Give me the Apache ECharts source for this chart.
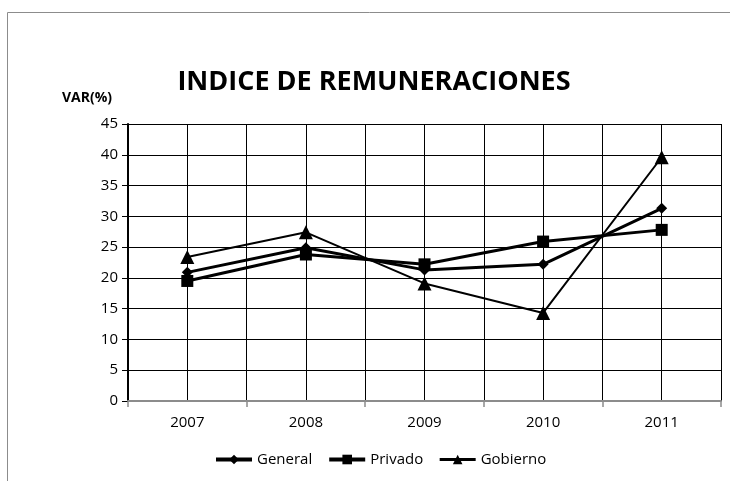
<!DOCTYPE html>
<html>
<head>
<meta charset="utf-8">
<script src="https://cdn.jsdelivr.net/npm/echarts@6/dist/echarts.min.js"></script>
<style>
  html, body { margin: 0; padding: 0; background: #fff; }
  #chart { width: 730px; height: 481px; }
</style>
</head>
<body>
<div id="chart"></div>
<script>
// datos
const years = ['2007', '2008', '2009', '2010', '2011'];
const general = [20.9, 24.9, 21.3, 22.2, 31.3];
const privado = [19.5, 23.8, 22.2, 25.9, 27.8];
const gobierno = [23.4, 27.4, 19.1, 14.3, 39.6];
const halfSteps = ['', '', '', '', '', '', '', '', '', ''];

const font = 'Open Sans';
const chart = echarts.init(document.getElementById('chart'));

chart.setOption({
    animation: false,
    textStyle: { fontFamily: font },
    title: {
        text: 'INDICE DE REMUNERACIONES',
        left: 369, top: 64, textAlign: 'center',
        textStyle: { fontFamily: font, fontSize: 27, fontWeight: 'bold', color: '#000' }
    },
    graphic: [
        { type: 'rect', shape: { x: 7.5, y: 12.5, width: 900, height: 700 },
          style: { fill: 'none', stroke: '#8c8c8c', lineWidth: 1 }, z: -1 },
        { type: 'text', left: 62, top: 91,
          style: { text: 'VAR(%)', font: 'bold 14px "Open Sans"', fill: '#000' } }
    ],
    legend: {
        bottom: 9, left: 209,
        itemWidth: 36, itemHeight: 12, itemGap: 15,
        textStyle: { fontFamily: font, fontSize: 15, color: '#000' },
        data: [
            { name: 'General', lineStyle: { width: 4 } },
            { name: 'Privado', lineStyle: { width: 4 } },
            { name: 'Gobierno', lineStyle: { width: 3 } }
        ]
    },
    grid: { left: 128, right: 9, top: 124, bottom: 80 },
    xAxis: [{
        type: 'category', data: years, boundaryGap: true,
        axisLine: { lineStyle: { color: '#8c8c8c', width: 2 } },
        axisTick: { show: true, length: 6, lineStyle: { color: '#8c8c8c', width: 1.5 } },
        axisLabel: { color: '#000', fontSize: 15, margin: 14 },
        splitLine: { show: false }
    }, {
        type: 'category', data: halfSteps, boundaryGap: true, position: 'bottom',
        axisLine: { show: false }, axisTick: { show: false }, axisLabel: { show: false },
        splitLine: { show: true, interval: 0, lineStyle: { color: '#000', width: 1 } }
    }],
    yAxis: {
        type: 'value', min: 0, max: 45, interval: 5,
        axisLine: { show: true, lineStyle: { color: '#000', width: 2 } },
        axisTick: { show: true, length: 6, lineStyle: { color: '#000' } },
        axisLabel: { color: '#000', fontSize: 15, margin: 10 },
        splitLine: { show: true, lineStyle: { color: '#000', width: 1 } }
    },
    series: [{
        name: 'General', type: 'line', data: general,
        symbol: 'diamond', symbolSize: 11,
        lineStyle: { color: '#000', width: 3 }, itemStyle: { color: '#000' }
    }, {
        name: 'Privado', type: 'line', data: privado,
        symbol: 'rect', symbolSize: 12,
        lineStyle: { color: '#000', width: 3 }, itemStyle: { color: '#000' }
    }, {
        name: 'Gobierno', type: 'line', data: gobierno,
        symbol: 'triangle', symbolSize: 14,
        lineStyle: { color: '#000', width: 2 }, itemStyle: { color: '#000' }
    }]
});
</script>
</body>
</html>
